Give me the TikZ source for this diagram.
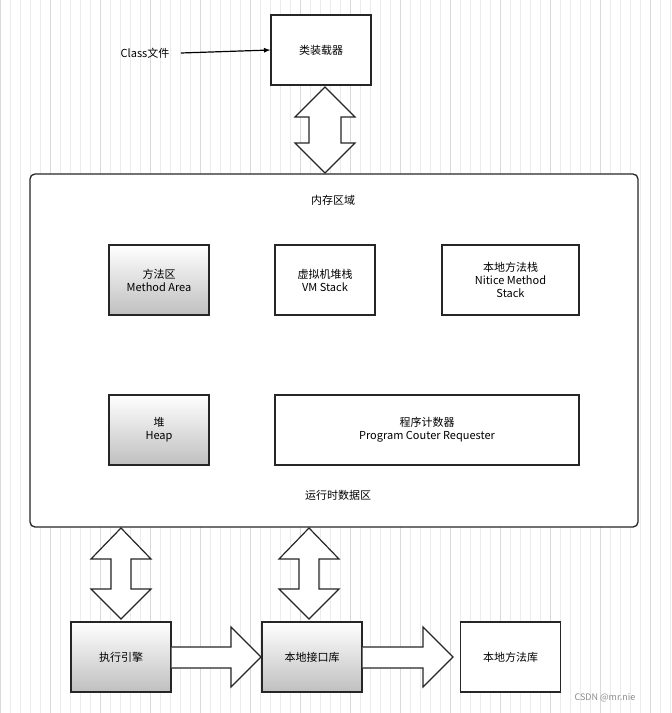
\documentclass[tikz,border=0pt]{standalone}
\usepackage{fontspec}
\setmainfont{Noto Sans CJK SC}
\begin{document}
\begin{tikzpicture}[x=1pt,y=-1pt,
  box/.style={draw=black!85,line width=1.3pt,minimum width=100pt,minimum height=70pt,align=center,font=\fontsize{11}{13}\selectfont,inner sep=2pt},
  grad/.style={box,top color=white,bottom color=black!25},
  fat/.style={draw=black!85,line width=1.2pt,fill=white,line join=miter},
  lbl/.style={font=\fontsize{11}{13}\selectfont}]
\useasboundingbox (0,0) rectangle (672,713);
\fill[white] (0,0) rectangle (672,713);
\draw[black!8,line width=0.5pt] (0,0) grid[step=10] (672,713);
\draw[black!15,line width=0.6pt] (0,0) grid[step=50] (672,713);
% loader
\node[box,fill=white] (cl) at (321,50) {类装载器};
\node[lbl] (cf) at (145,53) {Class文件};
\draw[-latex,line width=1.2pt] (cf.east) ++(8,0) coordinate (cfe) (cfe) -- (cl.west);
% memory area
\draw[line width=1.3pt,draw=black!85,fill=white,rounded corners=5pt] (30,174) rectangle (638,527);
\node[lbl] (mem) at (333,200) {内存区域};
\node[grad] (ma) at (159,280) {方法区\\Method Area};
\node[box,fill=white] (vm) at (325,280) {虚拟机堆栈\\VM Stack};
\node[box,fill=white,minimum width=137pt] (nm) at (510.5,280) {本地方法栈\\Nitice Method\\Stack};
\node[grad] (hp) at (159,430) {堆\\Heap};
\node[box,fill=white,minimum width=304pt] (pc) at (427,430) {程序计数器\\Program Couter Requester};
\node[lbl] (rt) at (338,495) {运行时数据区};
% engines
\node[grad] (ee) at (121,657) {执行引擎};
\node[grad] (ni) at (312,657) {本地接口库};
\node[box,fill=white] (nl) at (510.5,657) {本地方法库};
\node[font=\fontsize{9}{10}\selectfont,text=black!45] (cs) at (605,698) {CSDN @mr.nie};
% double vertical arrows
\draw[fat] (325,87) -- (355,117) -- (341,117) -- (341,143) -- (355,143) -- (325,173) -- (295,143) -- (309,143) -- (309,117) -- (295,117) -- cycle;
\draw[fat] (121,528) -- (151,559) -- (131,559) -- (131,589) -- (151,589) -- (121,619) -- (91,589) -- (111,589) -- (111,559) -- (91,559) -- cycle;
\draw[fat] (309,528) -- (339,559) -- (319,559) -- (319,589) -- (339,589) -- (309,619) -- (279,589) -- (299,589) -- (299,559) -- (279,559) -- cycle;
% horizontal fat arrows
\draw[fat] (ee.east |- 0,647) -- (231,647) -- (231,627) -- (261,657) -- (231,687) -- (231,668) -- (ee.east |- 0,668);
\draw[fat] (ni.east |- 0,647) -- (423,647) -- (423,627) -- (453,657) -- (423,687) -- (423,668) -- (ni.east |- 0,668);
\end{tikzpicture}
\end{document}
